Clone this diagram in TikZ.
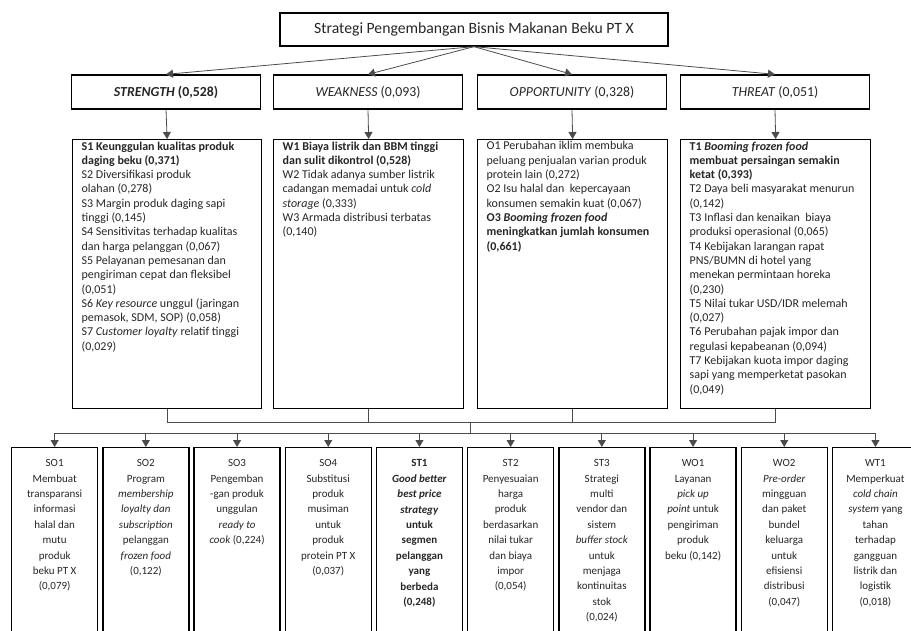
\documentclass[tikz,border=0pt]{standalone}
\usepackage{fontspec}
\setmainfont{Carlito}
\usepackage{tikz}
\usetikzlibrary{arrows.meta,positioning,calc}
\newcommand{\titlefont}{\fontsize{15.7}{18}\selectfont}
\newcommand{\headfont}{\fontsize{13.8}{16}\selectfont}
\newcommand{\swotfont}{\fontsize{12}{14.3}\selectfont}
\newcommand{\stratfont}{\fontsize{11}{15.4}\selectfont}
\tikzset{
  topbox/.style={rectangle, draw=black, line width=1.3pt, minimum width=388pt, minimum height=33pt, font=\titlefont},
  headbox/.style={rectangle, draw=black, line width=1.3pt, minimum width=189pt, minimum height=34pt, font=\headfont},
  itembox/.style={rectangle, draw=black, line width=1.3pt, anchor=north west, inner xsep=9pt, inner ysep=2pt, font=\swotfont},
  stratbox/.style={rectangle, draw=black, line width=1.3pt, anchor=north west, inner xsep=3pt, inner ysep=12pt, font=\stratfont},
  arr/.style={-{Triangle[length=7pt,width=8pt]}, line width=0.8pt, black!70},
  link/.style={line width=0.8pt, black!70},
}

\begin{document}
\begin{tikzpicture}[x=1pt, y=-1pt, text=black!85]
\useasboundingbox (0,0) rectangle (911,630);
\node[topbox] (title) at (474,29.5) {Strategi Pengembangan Bisnis Makanan Beku PT X};
% SWOT headers
\node[headbox] (hS) at (166,92) {\textbf{\textit{STRENGTH} (0,528)}};
\node[headbox] (hW) at (368,92) {\textit{WEAKNESS} (0,093)};
\node[headbox] (hO) at (572,92) {\textit{OPPORTUNITY} (0,328)};
\node[headbox] (hT) at (775,92) {\textit{THREAT} (0,051)};
\foreach \h in {hS,hW,hO,hT} \draw[arr] (title.south) -- (\h.north);
% SWOT factors
\node[itembox] (cS) at (72,139) {\parbox[t][265pt][t]{171pt}{\raggedright
\textbf{S1 Keunggulan kualitas produk\\ daging beku (0,371)}\\
S2 Diversifikasi produk\\ olahan (0,278)\\
S3 Margin produk daging sapi\\ tinggi (0,145)\\
S4 Sensitivitas terhadap kualitas\\ dan harga pelanggan (0,067)\\
S5 Pelayanan pemesanan dan\\ pengiriman cepat dan fleksibel\\ (0,051)\\
S6 \textit{Key resource} unggul (jaringan\\ pemasok, SDM, SOP) (0,058)\\
S7 \textit{Customer loyalty} relatif tinggi\\ (0,029)}};
\node[itembox] (cW) at (273,139) {\parbox[t][265pt][t]{172pt}{\raggedright
\textbf{W1 Biaya listrik dan BBM tinggi\\ dan sulit dikontrol (0,528)}\\
W2 Tidak adanya sumber listrik\\ cadangan memadai untuk \textit{cold}\\ \textit{storage} (0,333)\\
W3 Armada distribusi terbatas\\ (0,140)}};
\node[itembox] (cO) at (477,139) {\parbox[t][265pt][t]{172pt}{\raggedright
O1 Perubahan iklim membuka\\ peluang penjualan varian produk\\ protein lain (0,272)\\
O2 Isu halal dan \ kepercayaan\\ konsumen semakin kuat (0,067)\\
\textbf{O3 \textit{Booming frozen food}\\ meningkatkan jumlah konsumen\\ (0,661)}}};
\node[itembox] (cT) at (680,139) {\parbox[t][265pt][t]{172pt}{\raggedright
\textbf{T1 \textit{Booming frozen food}\\ membuat persaingan semakin\\ ketat (0,393)}\\
T2 Daya beli masyarakat menurun\\ (0,142)\\
T3 Inflasi dan kenaikan \ biaya\\ produksi operasional (0,065)\\
T4 Kebijakan larangan rapat\\ PNS/BUMN di hotel yang\\ menekan permintaan horeka\\ (0,230)\\
T5 Nilai tukar USD/IDR melemah\\ (0,027)\\
T6 Perubahan pajak impor dan\\ regulasi kepabeanan (0,094)\\
T7 Kebijakan kuota impor daging\\ sapi yang memperketat pasokan\\ (0,049)}};
\foreach \h/\c in {hS/cS,hW/cW,hO/cO,hT/cT} \draw[arr] (\h.south) -- (\c.north);
% strategies
\foreach \i/\n/\txt in {
  0/so1/{SO1\\ Membuat\\ transparansi\\ informasi\\ halal dan\\ mutu\\ produk\\ beku PT X\\ (0,079)},
  1/so2/{SO2\\ Program\\ \textit{membership}\\ \textit{loyalty dan}\\ \textit{subscription}\\ pelanggan\\ \textit{frozen food}\\ (0,122)},
  2/so3/{SO3\\ Pengemban\\ -gan produk\\ unggulan\\ \textit{ready to}\\ \textit{cook} (0,224)},
  3/so4/{SO4\\ Substitusi\\ produk\\ musiman\\ untuk\\ produk\\ protein PT X\\ (0,037)},
  4/st1/{\bfseries ST1\\ \textit{Good better}\\ \textit{best price}\\ \textit{strategy}\\ untuk\\ segmen\\ pelanggan\\ yang\\ berbeda\\ (0,248)},
  5/st2/{ST2\\ Penyesuaian\\ harga\\ produk\\ berdasarkan\\ nilai tukar\\ dan biaya\\ impor\\ (0,054)},
  6/st3/{ST3\\ Strategi\\ multi\\ vendor dan\\ sistem\\ \textit{buffer stock}\\ untuk\\ menjaga\\ kontinuitas\\ stok\\ (0,024)},
  7/wo1/{WO1\\ Layanan\\ \textit{pick up}\\ \textit{point} untuk\\ pengiriman\\ produk\\ beku (0,142)},
  8/wo2/{WO2\\ \textit{Pre-order}\\ mingguan\\ dan paket\\ bundel\\ keluarga\\ untuk\\ efisiensi\\ distribusi\\ (0,047)},
  9/wt1/{WT1\\ Memperkuat\\ \textit{cold chain}\\ \textit{system} yang\\ tahan\\ terhadap\\ gangguan\\ listrik dan\\ logistik\\ (0,018)}}
  \node[stratbox] (\n) at ({11+91.2*\i},447) {\parbox[t][200pt][t]{80pt}{\centering \txt}};
% connectors
\coordinate (bus1) at (470,422);
\coordinate (bus2) at (470,433);
\draw[link] (cS.south) -- (cS.south |- bus1) -- (cT.south |- bus1) -- (cT.south);
\draw[link] (cW.south) -- (cW.south |- bus1);
\draw[link] (cO.south) -- (cO.south |- bus1);
\draw[link] (bus1) -- (bus2);
\draw[link] (so1.north |- bus2) -- (wt1.north |- bus2);
\foreach \n in {so1,so2,so3,so4,st1,st2,st3,wo1,wo2,wt1} \draw[arr] (\n.north |- bus2) -- (\n.north);
\end{tikzpicture}
\end{document}
